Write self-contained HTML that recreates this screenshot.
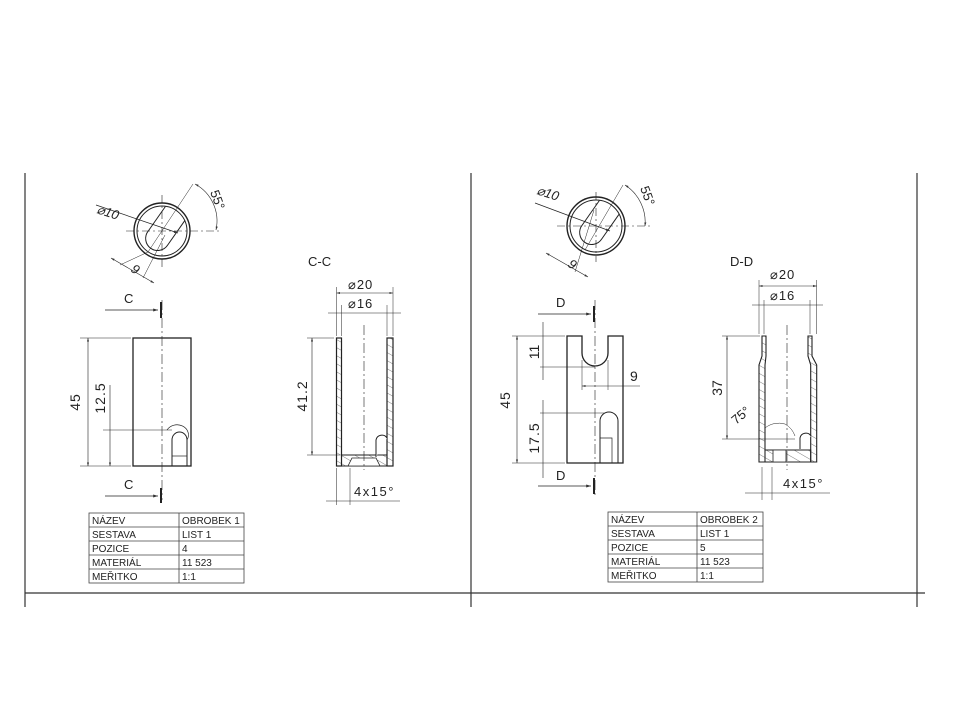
<!DOCTYPE html>
<html><head><meta charset="utf-8"><style>
html,body{margin:0;padding:0;background:#fff;}
svg{display:block;}
text{font-family:"Liberation Sans",sans-serif;fill:#222;}
</style></head><body>
<svg width="960" height="720" viewBox="0 0 960 720" xmlns="http://www.w3.org/2000/svg">
<defs>
<marker id="a" viewBox="0 0 10 10" refX="10" refY="5" markerWidth="6" markerHeight="6" orient="auto-start-reverse"><path d="M0,2 L10,5 L0,8z" fill="#333"/></marker>
<pattern id="h" width="7" height="7" patternUnits="userSpaceOnUse" patternTransform="rotate(-60)"><line x1="0" y1="0" x2="0" y2="7" stroke="#444" stroke-width="0.7"/></pattern>
</defs>
<g stroke="#333" stroke-width="1.2" fill="none">
<line x1="25" y1="173" x2="25" y2="607"/>
<line x1="471" y1="173" x2="471" y2="607"/>
<line x1="917" y1="173" x2="917" y2="607"/>
<line x1="25" y1="593" x2="925" y2="593"/>
</g>

<!-- ===== LEFT ===== -->
<g stroke="#222" fill="none" stroke-width="1">
<circle cx="162" cy="231" r="28" stroke-width="1.4"/>
<circle cx="162" cy="231" r="25"/>
<path d="M185,220.3 L167.8,244.9 A12,12 0 1 1 148.2,231.1 L165.4,206.5" stroke-width="1"/>
<line x1="126" y1="231" x2="222" y2="231" stroke-dasharray="8,3,2,3" stroke-width="0.6"/>
<line x1="162" y1="195" x2="162" y2="268" stroke-dasharray="8,3,2,3" stroke-width="0.6"/>
<line x1="96" y1="205" x2="178" y2="233" stroke-width="0.7" marker-end="url(#a)"/>
<line x1="193" y1="184" x2="148" y2="252" stroke-width="0.5"/>
<line x1="148" y1="252" x2="120" y2="265" stroke-width="0.5"/>
<line x1="165" y1="235" x2="143" y2="278" stroke-width="0.5"/>
<line x1="111" y1="258" x2="154" y2="283" stroke-width="0.6" marker-start="url(#a)" marker-end="url(#a)"/>
<path d="M195,184 A42,42 0 0 1 216,230" stroke-width="0.6" marker-start="url(#a)" marker-end="url(#a)"/>
<rect x="133" y="338" width="58" height="128" stroke-width="1.3"/>
<path d="M172,466 L172,440 A7.5,8 0 0 1 187,440 L187,466" />
<path d="M167,430 A9,8 0 0 1 187,440" stroke-width="0.7"/>
<line x1="172" y1="456" x2="187" y2="456" stroke-width="0.7"/>
<line x1="162" y1="300" x2="162" y2="500" stroke-dasharray="10,3,2,3" stroke-width="0.6"/>
<line x1="105" y1="310" x2="158" y2="310" stroke-width="0.8" marker-end="url(#a)"/>
<line x1="161" y1="302" x2="161" y2="318" stroke-width="2"/>
<line x1="105" y1="496" x2="158" y2="496" stroke-width="0.8" marker-end="url(#a)"/>
<line x1="161" y1="488" x2="161" y2="503" stroke-width="2"/>
<line x1="80" y1="338" x2="131" y2="338" stroke-width="0.5"/>
<line x1="80" y1="466" x2="131" y2="466" stroke-width="0.5"/>
<line x1="88" y1="338" x2="88" y2="466" stroke-width="0.6" marker-start="url(#a)" marker-end="url(#a)"/>
<line x1="103" y1="430" x2="172" y2="430" stroke-width="0.5"/>
<line x1="110" y1="385" x2="110" y2="466" stroke-width="0.6" marker-end="url(#a)"/>
<!-- C-C -->
<rect x="336.5" y="338" width="5" height="128" stroke-width="1.2" fill="url(#h)"/>
<rect x="387" y="338" width="6" height="128" stroke-width="1.2" fill="url(#h)"/>
<rect x="341.5" y="455" width="45.5" height="11" stroke-width="1" fill="url(#h)"/>
<path d="M348,466 L352,458 H376 L380,466 Z" stroke-width="0.8" fill="#fff"/>
<path d="M376,457 L376,440 A6,6 0 0 1 387,438" fill="#fff" stroke-width="1"/>
<line x1="364" y1="325" x2="364" y2="470" stroke-dasharray="10,3,2,3" stroke-width="0.6"/>
<line x1="336.5" y1="287" x2="336.5" y2="336" stroke-width="0.5"/>
<line x1="393" y1="287" x2="393" y2="336" stroke-width="0.5"/>
<line x1="336.5" y1="293" x2="393" y2="293" stroke-width="0.6" marker-start="url(#a)" marker-end="url(#a)"/>
<line x1="341.5" y1="305" x2="341.5" y2="336" stroke-width="0.5"/>
<line x1="387" y1="305" x2="387" y2="336" stroke-width="0.5"/>
<line x1="328" y1="313" x2="401" y2="313" stroke-width="0.6"/>
<line x1="307" y1="338" x2="334" y2="338" stroke-width="0.5"/>
<line x1="307" y1="455" x2="340" y2="455" stroke-width="0.5"/>
<line x1="312" y1="338" x2="312" y2="455" stroke-width="0.6" marker-start="url(#a)" marker-end="url(#a)"/>
<line x1="336.5" y1="468" x2="336.5" y2="505" stroke-width="0.5"/>
<line x1="350" y1="468" x2="350" y2="505" stroke-width="0.5"/>
<line x1="326" y1="501" x2="400" y2="501" stroke-width="0.6"/>
</g>
<g>
<text x="96" y="213" font-style="italic" font-size="13" transform="rotate(18 96 213)">⌀10</text>
<text x="130" y="271" font-style="italic" font-size="13" transform="rotate(33 130 271)">9</text>
<text x="210" y="192" font-size="13" transform="rotate(70 210 192)">55°</text>
<text x="124" y="303" font-size="13">C</text>
<text x="124" y="489" font-size="13">C</text>
<text x="80" y="402" font-size="14" letter-spacing="1" transform="rotate(-90 80 402)" text-anchor="middle">45</text>
<text x="105" y="398" font-size="14" letter-spacing="1" transform="rotate(-90 105 398)" text-anchor="middle">12.5</text>
<text x="308" y="266" font-size="13">C-C</text>
<text x="348" y="289" font-size="13" letter-spacing="1">⌀20</text>
<text x="348" y="308" font-size="13" letter-spacing="1">⌀16</text>
<text x="307" y="396" font-size="14" letter-spacing="1" transform="rotate(-90 307 396)" text-anchor="middle">41.2</text>
<text x="354" y="496" font-size="13" letter-spacing="1.5">4x15°</text>
</g>

<!-- ===== RIGHT ===== -->
<g stroke="#222" fill="none" stroke-width="1">
<circle cx="596" cy="226" r="29" stroke-width="1.4"/>
<circle cx="596" cy="226" r="26"/>
<path d="M619,214.3 L601.8,238.9 A12,12 0 1 1 582.2,225.1 L599.4,200.5"/>
<line x1="557" y1="226" x2="652" y2="226" stroke-dasharray="8,3,2,3" stroke-width="0.6"/>
<line x1="596" y1="192" x2="596" y2="262" stroke-dasharray="8,3,2,3" stroke-width="0.6"/>
<line x1="535" y1="203" x2="610" y2="231" stroke-width="0.7" marker-end="url(#a)"/>
<line x1="623" y1="185" x2="585" y2="250" stroke-width="0.5"/>
<line x1="594" y1="210" x2="575" y2="272" stroke-width="0.5"/>
<line x1="546" y1="253" x2="588" y2="277" stroke-width="0.6" marker-start="url(#a)" marker-end="url(#a)"/>
<path d="M625,185 A44,44 0 0 1 645,226" stroke-width="0.6" marker-start="url(#a)" marker-end="url(#a)"/>
<path d="M567,336 H582 V353 A13,13 0 0 0 608,353 V336 H623 V463 H567 Z" stroke-width="1.3"/>
<path d="M600,463 V421 A8,8 0 0 1 618,421 V463" />
<path d="M600,438 H612 V463" stroke-width="0.7"/>
<line x1="595" y1="300" x2="595" y2="495" stroke-dasharray="10,3,2,3" stroke-width="0.6"/>
<line x1="538" y1="314" x2="591" y2="314" stroke-width="0.8" marker-end="url(#a)"/>
<line x1="594" y1="306" x2="594" y2="322" stroke-width="2"/>
<line x1="538" y1="486" x2="591" y2="486" stroke-width="0.8" marker-end="url(#a)"/>
<line x1="594" y1="478" x2="594" y2="494" stroke-width="2"/>
<line x1="512" y1="336" x2="565" y2="336" stroke-width="0.5"/>
<line x1="512" y1="463" x2="565" y2="463" stroke-width="0.5"/>
<line x1="517" y1="336" x2="517" y2="463" stroke-width="0.6" marker-start="url(#a)" marker-end="url(#a)"/>
<line x1="543" y1="322" x2="543" y2="380" stroke-width="0.6"/>
<line x1="540" y1="367" x2="595" y2="367" stroke-width="0.5"/>
<line x1="543" y1="400" x2="543" y2="478" stroke-width="0.6"/>
<line x1="540" y1="413" x2="605" y2="413" stroke-width="0.5"/>
<line x1="582" y1="360" x2="582" y2="390" stroke-width="0.5"/>
<line x1="608" y1="360" x2="608" y2="390" stroke-width="0.5"/>
<line x1="582" y1="386" x2="640" y2="386" stroke-width="0.6" marker-start="url(#a)"/>
<!-- D-D -->
<path d="M762,336 V356 L759,365 V462 H765 V365 L766,356 V336 Z" stroke-width="1.1" fill="url(#h)"/>
<path d="M812,336 V356 L816.7,365 V462 H810.7 V365 L808,356 V336 Z" stroke-width="1.1" fill="url(#h)"/>
<rect x="765" y="450" width="45.7" height="12" stroke-width="1" fill="url(#h)"/>
<rect x="773" y="450" width="13" height="12" fill="#fff" stroke-width="0.8"/>
<path d="M800,449 V438 A6,6 0 0 1 811,436" fill="#fff"/>
<line x1="787" y1="325" x2="787" y2="470" stroke-dasharray="10,3,2,3" stroke-width="0.6"/>
<line x1="759" y1="280" x2="759" y2="334" stroke-width="0.5"/>
<line x1="816.7" y1="280" x2="816.7" y2="334" stroke-width="0.5"/>
<line x1="759" y1="286" x2="816.7" y2="286" stroke-width="0.6" marker-start="url(#a)" marker-end="url(#a)"/>
<line x1="764" y1="300" x2="764" y2="334" stroke-width="0.5"/>
<line x1="810" y1="300" x2="810" y2="334" stroke-width="0.5"/>
<line x1="752" y1="305" x2="823" y2="305" stroke-width="0.6"/>
<line x1="722" y1="336" x2="760" y2="336" stroke-width="0.5"/>
<line x1="722" y1="439" x2="795" y2="439" stroke-width="0.5"/>
<line x1="727" y1="336" x2="727" y2="439" stroke-width="0.6" marker-start="url(#a)" marker-end="url(#a)"/>
<path d="M765,428 A22,22 0 0 1 785,424 A22,22 0 0 1 795,436" stroke-width="0.5"/>
<line x1="762" y1="467" x2="762" y2="500" stroke-width="0.5"/>
<line x1="772" y1="467" x2="772" y2="500" stroke-width="0.5"/>
<line x1="745" y1="493" x2="830" y2="493" stroke-width="0.6"/>
</g>
<g>
<text x="536" y="194" font-style="italic" font-size="13" transform="rotate(18 536 194)">⌀10</text>
<text x="567" y="266" font-style="italic" font-size="13" transform="rotate(33 567 266)">9</text>
<text x="640" y="188" font-size="13" transform="rotate(70 640 188)">55°</text>
<text x="556" y="307" font-size="13">D</text>
<text x="556" y="480" font-size="13">D</text>
<text x="510" y="400" font-size="14" letter-spacing="1" transform="rotate(-90 510 400)" text-anchor="middle">45</text>
<text x="539" y="352" font-size="14" transform="rotate(-90 539 352)" text-anchor="middle">11</text>
<text x="539" y="438" font-size="14" letter-spacing="1" transform="rotate(-90 539 438)" text-anchor="middle">17.5</text>
<text x="630" y="381" font-size="14">9</text>
<text x="730" y="266" font-size="13">D-D</text>
<text x="770" y="279" font-size="13" letter-spacing="1">⌀20</text>
<text x="770" y="300" font-size="13" letter-spacing="1">⌀16</text>
<text x="722" y="388" font-size="14" transform="rotate(-90 722 388)" text-anchor="middle">37</text>
<text x="736" y="425" font-size="13" transform="rotate(-40 736 425)">75°</text>
<text x="783" y="488" font-size="13" letter-spacing="1.5">4x15°</text>
</g>

<g stroke="#444" stroke-width="0.8" fill="none">
<rect x="89" y="513" width="155" height="70"/>
<line x1="179" y1="513" x2="179" y2="583"/>
<line x1="89" y1="527" x2="244" y2="527"/><line x1="89" y1="541" x2="244" y2="541"/>
<line x1="89" y1="555" x2="244" y2="555"/><line x1="89" y1="569" x2="244" y2="569"/>
<rect x="608" y="512" width="155" height="70"/>
<line x1="697" y1="512" x2="697" y2="582"/>
<line x1="608" y1="526" x2="763" y2="526"/><line x1="608" y1="540" x2="763" y2="540"/>
<line x1="608" y1="554" x2="763" y2="554"/><line x1="608" y1="568" x2="763" y2="568"/>
</g>
<g font-size="10">
<text x="92" y="524">NÁZEV</text><text x="182" y="524">OBROBEK 1</text>
<text x="92" y="538">SESTAVA</text><text x="182" y="538">LIST 1</text>
<text x="92" y="552">POZICE</text><text x="182" y="552">4</text>
<text x="92" y="566">MATERIÁL</text><text x="182" y="566">11 523</text>
<text x="92" y="580">MEŘITKO</text><text x="182" y="580">1:1</text>
<text x="611" y="523">NÁZEV</text><text x="700" y="523">OBROBEK 2</text>
<text x="611" y="537">SESTAVA</text><text x="700" y="537">LIST 1</text>
<text x="611" y="551">POZICE</text><text x="700" y="551">5</text>
<text x="611" y="565">MATERIÁL</text><text x="700" y="565">11 523</text>
<text x="611" y="579">MEŘITKO</text><text x="700" y="579">1:1</text>
</g>
</svg>
</body></html>
